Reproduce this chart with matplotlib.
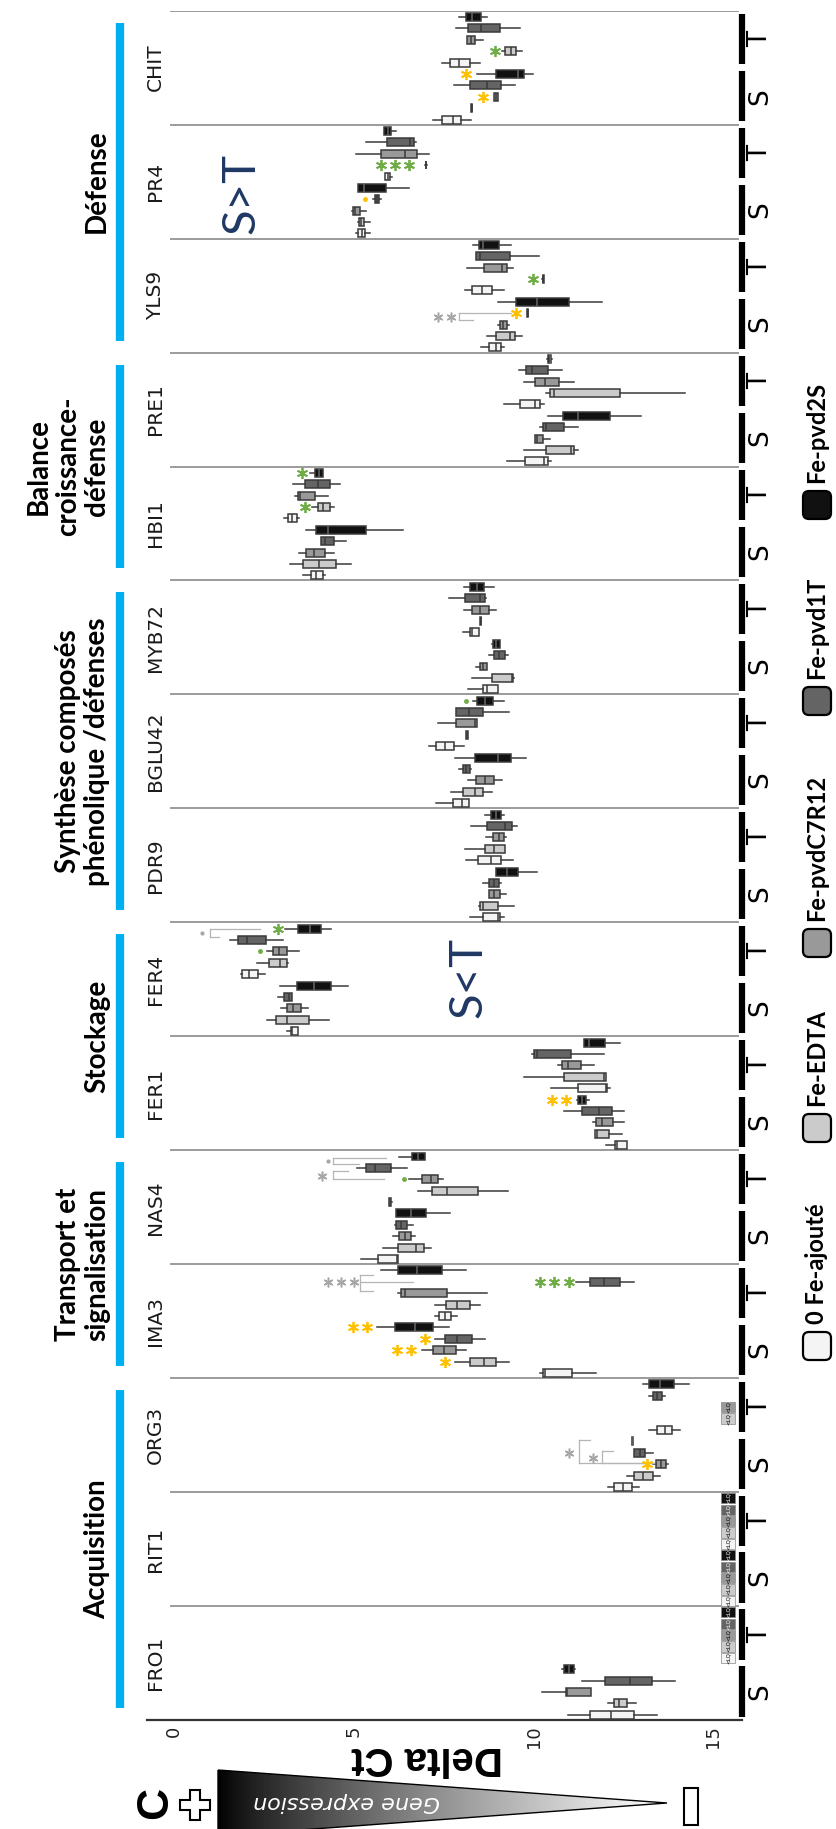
import matplotlib
matplotlib.use("Agg")
import matplotlib.pyplot as plt
import matplotlib.transforms as mtransforms
import numpy as np
from matplotlib.patches import FancyBboxPatch, Polygon, Rectangle

plt.rcParams["font.family"] = ["DejaVu Sans"]

# ── data (genes from bottom to top, Delta Ct values) ────
genes = ["FRO1", "RIT1", "ORG3", "IMA3", "NAS4", "FER1", "FER4",
         "PDR9", "BGLU42", "MYB72", "HBI1", "PRE1", "YLS9", "PR4", "CHIT"]
treatments = ["0 Fe-ajouté", "Fe-EDTA", "Fe-pvdC7R12", "Fe-pvd1T", "Fe-pvd2S"]
box_colors = ["#f4f4f4", "#cbcbcb", "#999999", "#646464", "#111111"]

# rows: S (5 treatments) then T (5 treatments)
# (whisker low, q1, median, q3, whisker high) ; None = below quantification
FRO1 = [(10.97, 11.57, 12.16, 12.80, 13.42), (12.06, 12.23, 12.38, 12.61, 12.86),
        (10.23, 10.90, 10.93, 11.60, 11.60), (11.34, 11.98, 12.68, 13.30, 13.94),
        (10.80, 10.86, 10.98, 11.12, 11.15),
        None, None, None, None, None]
RIT1 = [None] * 10
ORG3 = [(12.07, 12.25, 12.49, 12.74, 12.94), (12.59, 12.78, 13.05, 13.31, 13.52),
        (13.33, 13.40, 13.54, 13.68, 13.73), (12.80, 12.80, 12.95, 13.11, 13.33),
        (12.74, 12.75, 12.75, 12.76, 12.76),
        (13.21, 13.44, 13.65, 13.86, 14.06), None, None,
        (13.21, 13.31, 13.43, 13.56, 13.65), (13.03, 13.21, 13.52, 13.90, 14.33)]
IMA3 = [(10.17, 10.26, 10.32, 11.07, 11.75), (7.82, 8.23, 8.62, 8.97, 9.31),
        (6.89, 7.20, 7.51, 7.84, 8.13), (7.26, 7.53, 7.88, 8.28, 8.65),
        (5.65, 6.14, 6.70, 7.20, 7.66),
        (7.26, 7.38, 7.53, 7.72, 7.88), (7.26, 7.57, 7.88, 8.23, 8.52),
        (6.24, 6.33, 6.43, 7.61, 8.72), (11.19, 11.56, 11.97, 12.41, 12.78),
        (5.75, 6.24, 6.76, 7.45, 8.13)]
NAS4 = [(5.21, 5.67, 6.21, 6.23, 6.23), (5.83, 6.23, 6.74, 6.95, 7.14),
        (6.11, 6.27, 6.43, 6.60, 6.70), (6.14, 6.18, 6.33, 6.49, 6.64),
        (6.18, 6.18, 6.60, 7.01, 7.69),
        (5.98, 5.99, 6.02, 6.05, 6.06), (6.79, 7.17, 7.61, 8.46, 9.28),
        (6.55, 6.89, 7.14, 7.36, 7.48), (5.09, 5.34, 5.61, 6.05, 6.49),
        (6.27, 6.62, 6.79, 6.99, 6.99)]
FER1 = [(12.01, 12.26, 12.31, 12.59, 12.59), (11.72, 11.72, 11.76, 12.10, 12.47),
        (11.66, 11.75, 11.91, 12.22, 12.51), (10.86, 11.35, 11.82, 12.18, 12.51),
        (11.20, 11.25, 11.35, 11.45, 11.54),
        (10.48, 11.23, 12.01, 12.04, 12.13), (9.74, 10.86, 11.97, 12.01, 12.01),
        (10.67, 10.80, 10.96, 11.32, 11.69), (9.96, 10.01, 10.09, 11.04, 11.95),
        (11.41, 11.41, 11.54, 12.00, 12.41)]
FER4 = [(3.14, 3.27, 3.30, 3.45, 3.45), (2.59, 2.86, 3.14, 3.75, 4.32),
        (2.98, 3.14, 3.33, 3.54, 3.73), (2.90, 3.08, 3.20, 3.29, 3.29),
        (2.96, 3.42, 3.89, 4.37, 4.84),
        (1.87, 1.90, 2.11, 2.34, 2.55), (2.33, 2.65, 2.96, 3.14, 3.17),
        (2.61, 2.77, 2.92, 3.14, 3.48), (1.58, 1.80, 2.05, 2.57, 3.04),
        (3.11, 3.45, 3.79, 4.10, 4.38)]
PDR9 = [(8.23, 8.60, 9.02, 9.08, 9.18), (8.48, 8.50, 8.60, 9.00, 9.47),
        (8.75, 8.77, 8.90, 9.06, 9.24), (8.60, 8.77, 8.90, 9.03, 9.10),
        (8.97, 8.97, 9.25, 9.58, 10.11),
        (8.13, 8.46, 8.81, 9.10, 9.43), (8.10, 8.65, 8.90, 9.22, 9.22),
        (8.69, 8.87, 9.03, 9.18, 9.24), (8.25, 8.72, 9.22, 9.39, 9.55),
        (8.65, 8.81, 8.95, 9.10, 9.18)]
BGLU42 = [(7.29, 7.76, 8.00, 8.22, 8.22), (7.72, 8.04, 8.38, 8.60, 8.85),
          (8.19, 8.41, 8.66, 8.91, 9.12), (7.94, 8.03, 8.13, 8.23, 8.25),
          (7.82, 8.38, 9.00, 9.37, 9.80),
          (7.11, 7.29, 7.53, 7.79, 8.07), (8.12, 8.13, 8.15, 8.17, 8.18),
          (7.35, 7.84, 8.38, 8.44, 8.44), (7.84, 7.84, 8.20, 8.59, 9.31),
          (8.31, 8.44, 8.65, 8.87, 9.18)]
MYB72 = [(8.19, 8.59, 8.70, 9.00, 9.00), (8.29, 8.84, 9.40, 9.43, 9.47),
         (8.41, 8.50, 8.60, 8.71, 8.71), (8.75, 8.90, 9.05, 9.22, 9.28),
         (8.85, 8.87, 8.97, 9.06, 9.08),
         (8.03, 8.23, 8.30, 8.48, 8.48), (8.51, 8.52, 8.53, 8.54, 8.55),
         (8.07, 8.28, 8.50, 8.77, 8.96), (7.66, 8.09, 8.50, 8.66, 8.69),
         (8.07, 8.23, 8.42, 8.62, 8.91)]
HBI1 = [(3.60, 3.81, 3.97, 4.16, 4.22), (3.23, 3.60, 4.04, 4.51, 4.94),
        (3.48, 3.69, 3.91, 4.20, 4.45), (4.10, 4.10, 4.20, 4.47, 4.78),
        (3.69, 3.97, 4.28, 5.34, 6.37),
        (3.08, 3.17, 3.29, 3.42, 3.48), (3.85, 4.00, 4.16, 4.35, 4.47),
        (3.38, 3.45, 3.50, 3.94, 4.28), (3.33, 3.66, 4.01, 4.35, 4.63),
        (3.79, 3.94, 4.05, 4.16, 4.16)]
PRE1 = [(9.27, 9.77, 10.30, 10.40, 10.49), (9.74, 10.34, 11.04, 11.13, 11.25),
        (10.05, 10.05, 10.10, 10.27, 10.46), (10.17, 10.27, 10.36, 10.86, 11.25),
        (10.40, 10.82, 11.25, 12.13, 13.00),
        (9.18, 9.62, 10.05, 10.17, 10.30), (10.34, 10.46, 10.58, 12.41, 14.20),
        (9.74, 10.03, 10.32, 10.71, 11.13), (9.59, 9.78, 9.96, 10.40, 10.80),
        (10.38, 10.40, 10.45, 10.50, 10.52)]
YLS9 = [(8.54, 8.77, 8.96, 9.10, 9.18), (8.71, 8.97, 9.34, 9.49, 9.68),
        (9.00, 9.06, 9.15, 9.27, 9.31), (9.82, 9.83, 9.84, 9.85, 9.86),
        (9.00, 9.52, 10.09, 11.00, 11.91),
        (8.10, 8.28, 8.56, 8.85, 9.18), (10.25, 10.26, 10.27, 10.28, 10.29),
        (8.15, 8.62, 9.12, 9.27, 9.43), (8.40, 8.40, 8.50, 9.34, 10.14),
        (8.31, 8.48, 8.60, 9.03, 9.37)]
PR4 = [(5.07, 5.13, 5.24, 5.31, 5.46), (5.13, 5.15, 5.22, 5.30, 5.46),
       (4.97, 4.99, 5.05, 5.18, 5.34), (5.55, 5.59, 5.65, 5.71, 5.75),
       (5.13, 5.13, 5.30, 5.90, 6.55),
       (5.87, 5.87, 5.95, 6.02, 6.08), (6.99, 7.00, 7.01, 7.02, 7.03),
       (5.07, 5.75, 6.42, 6.76, 7.10), (5.36, 5.93, 6.58, 6.68, 6.73),
       (5.86, 5.86, 5.95, 6.05, 6.17)]
CHIT = [(7.20, 7.45, 7.76, 7.98, 8.25), (8.26, 8.27, 8.28, 8.29, 8.30),
        (8.91, 8.91, 8.95, 9.00, 9.00), (7.79, 8.23, 8.72, 9.10, 9.49),
        (8.44, 8.97, 9.56, 9.74, 9.99),
        (7.45, 7.69, 7.94, 8.23, 8.50), (9.12, 9.22, 9.37, 9.52, 9.68),
        (8.15, 8.15, 8.25, 8.38, 8.60), (7.86, 8.19, 8.53, 9.08, 9.62),
        (7.92, 8.13, 8.30, 8.53, 8.71)]

gene_rows = [FRO1, RIT1, ORG3, IMA3, NAS4, FER1, FER4,
             PDR9, BGLU42, MYB72, HBI1, PRE1, YLS9, PR4, CHIT]

categories = ["Acquisition", "Transport et\nsignalisation", "Stockage",
              "Synthèse composés\nphénolique /défenses",
              "Balance\ncroissance-\ndéfense", "Défense"]
category_genes = [(0, 3), (3, 5), (5, 7), (7, 10), (10, 12), (12, 15)]

# significance stars: gene, group, treatment index, colour, Delta Ct of each star
YEL, GRN, GRY = "#ffc000", "#70ad47", "#a6a6a6"
stars = [
    ("ORG3", "S", 2, YEL, [13.15]),
    ("IMA3", "T", 3, GRN, [10.18, 10.57, 10.98]),
    ("IMA3", "S", 4, YEL, [4.99, 5.38]),
    ("IMA3", "S", 3, YEL, [6.99]),
    ("IMA3", "S", 2, YEL, [6.21, 6.60]),
    ("IMA3", "S", 1, YEL, [7.53]),
    ("FER1", "S", 4, YEL, [10.52, 10.89]),
    ("FER4", "T", 4, GRN, [2.90]),
    ("HBI1", "T", 4, GRN, [3.57]),
    ("HBI1", "T", 1, GRN, [3.66]),
    ("YLS9", "T", 1, GRN, [9.99]),
    ("YLS9", "S", 3, YEL, [9.52]),
    ("PR4", "T", 1, GRN, [5.77, 6.14, 6.54]),
    ("CHIT", "T", 1, GRN, [8.93]),
    ("CHIT", "S", 4, YEL, [8.13]),
    ("CHIT", "S", 2, YEL, [8.59]),
]
dots = [("NAS4", "T", 2, GRN, 6.39), ("FER4", "T", 2, GRN, 2.40),
        ("BGLU42", "T", 4, GRN, 8.13), ("PR4", "S", 3, YEL, 5.31)]
# grey brackets: gene, group, x of bar, arms (row, x end), label, label (x, row)
brackets = [
    ("ORG3", "S", 11.27, [(4.09, 11.56), (2.09, 13.34)], "*", (11.00, 3.0)),
    ("ORG3", "S", 11.89, [(3.14, 12.20), (2.09, 13.34)], "*", (11.66, 2.57)),
    ("IMA3", "T", 5.19, [(3.57, 5.55), (3.0, 6.64), (2.2, 5.55)], "***", (4.65, 3.0)),
    ("NAS4", "T", 4.43, [(3.88, 5.90), (3.3, 5.15)], ".", (4.28, 3.6)),
    ("NAS4", "T", 4.43, [(2.71, 4.84), (2.06, 5.86)], "*", (4.12, 2.3)),
    ("FER4", "T", 1.00, [(4.0, 2.40), (3.29, 1.25)], ".", (0.79, 3.57)),
    ("YLS9", "S", 7.94, [(3.06, 9.37), (2.4, 8.32)], "**", (7.53, 2.7)),
]


def row_y(g, i):
    return g + 0.045 + 0.1 * i


def gy(gene, group, k):
    return row_y(genes.index(gene), k + (5 if group == "T" else 0))


# ── figure ───────────────────────────────────────────────────────────────────
W, H = 837, 1829
fig = plt.figure(figsize=(W / 100, H / 100), dpi=100)
ax = fig.add_axes([146.9 / W, 1 - 1720 / H, (739.4 - 146.9) / W, 1709.3 / H])

# separators and axis line
ax.hlines(np.arange(1, 16), -0.1, 15.72, color="#808080", lw=1.1, zorder=1)
ax.plot([-0.74, 15.8], [0, 0], color="#333333", lw=1.6, clip_on=False, zorder=2)

stats, pos, cols = [], [], []
for g, rows in enumerate(gene_rows):
    for i, r in enumerate(rows):
        if r is None:
            y = row_y(g, i)
            c = box_colors[i % 5]
            ax.add_patch(Rectangle((15.2, y - 0.045), 0.4, 0.09, facecolor=c,
                                   edgecolor="#888888", lw=0.5, zorder=3))
            ax.text(15.4, y, "<LQ", rotation=90, ha="center", va="center",
                    fontsize=4, color="white" if i % 5 >= 3 else "black", zorder=4)
            continue
        lo, q1, med, q3, hi = r
        stats.append(dict(whislo=lo, q1=q1, med=med, q3=q3, whishi=hi, fliers=[]))
        pos.append(row_y(g, i))
        cols.append(box_colors[i % 5])

bp = ax.bxp(stats, positions=pos, widths=0.07, orientation="horizontal",
            patch_artist=True, showcaps=False, showfliers=False, manage_ticks=False,
            boxprops=dict(edgecolor="#3a3a3a", linewidth=1.1),
            whiskerprops=dict(color="#3a3a3a", linewidth=1.1),
            medianprops=dict(color="#3a3a3a", linewidth=1.1))
for patch, med, c in zip(bp["boxes"], bp["medians"], cols):
    patch.set_facecolor(c)
    if c == box_colors[4]:
        med.set_color("#666666")

ax.set_xlim(-0.74, 15.72)
ax.set_ylim(0, 15)
for s in ax.spines.values():
    s.set_visible(False)
ax.set_yticks([])
ax.set_xticks([0, 5, 10, 15])
ax.set_xticklabels(["0", "5", "10", "15"], rotation=90)
ax.tick_params(axis="x", length=0, pad=4, labelsize=13, labelcolor="#222222")

# stars, dots, brackets
for gene, grp, k, col, xs in stars:
    y = gy(gene, grp, k)
    ax.plot(xs, [y] * len(xs), ls="none", marker=(6, 2, 0), ms=8, mew=1.3,
            color=col, zorder=5)
for gene, grp, k, col, x in dots:
    ax.plot(x, gy(gene, grp, k), "o", ms=2.5, color=col, zorder=5)
for gene, grp, xb, arms, lab, (lx, lk) in brackets:
    ks = [a[0] for a in arms]
    ax.plot([xb, xb], [gy(gene, grp, min(ks)), gy(gene, grp, max(ks))],
            color="#b5b5b5", lw=0.9, zorder=4)
    for k, xe in arms:
        ax.plot([xb, xe], [gy(gene, grp, k)] * 2, color="#b5b5b5", lw=0.9, zorder=4)
    ly = gy(gene, grp, lk)
    if lab == ".":
        ax.plot(lx, ly, "o", ms=2, color=GRY, zorder=5)
    else:
        n = len(lab)
        xs = lx + 0.35 * (np.arange(n) - (n - 1) / 2)
        ax.plot(xs, [ly] * n, ls="none", marker=(6, 2, 0), ms=7, mew=1.1,
                color=GRY, zorder=5)

# gene names, S/T strips
for g, name in enumerate(genes):
    ax.text(-0.51, g + 0.5, name, rotation=90, ha="center", va="center",
            fontsize=14.5, color="#1a1a1a")
    for j, lab in enumerate(["S", "T"]):
        ax.plot([15.8, 15.8], [g + 0.5 * j + 0.03, g + 0.5 * j + 0.47],
                color="black", lw=4.5, solid_capstyle="butt", clip_on=False)
        ax.text(16.3, g + 0.25 + 0.5 * j, lab, rotation=90, ha="center",
                va="center", fontsize=19, clip_on=False)

ax.text(1.9, 13.4, "S>T", rotation=90, ha="center", va="center",
        fontsize=34, family="Lato", color="#1f3864")
ax.text(8.2, 6.52, "S<T", rotation=90, ha="center", va="center",
        fontsize=34, family="Lato", color="#1f3864")

# ── overlay in pixel coordinates ────────────────────────────────────────────
ov = fig.add_axes([0, 0, 1, 1])
ov.patch.set_alpha(0)
ov.axis("off")
bt = mtransforms.blended_transform_factory(ov.transData, ax.transData)

band_px = 1709.3 / 15
for lab, (g0, g1) in zip(categories, category_genes):
    m = 12 / band_px
    ov.plot([120, 120], [g0 + m, g1 - m], transform=bt, color="#00b0f0",
            lw=6, solid_capstyle="butt")
    ov.text(110, (g0 + g1) / 2, lab, transform=bt, rotation=90, ha="right",
            va="center", fontsize=20, family="Lato", weight="bold",
            multialignment="center", linespacing=1.15)

# legend
leg_y = [1346, 1128, 943, 701, 505]
for lab, c, yc in zip(treatments, box_colors, leg_y):
    ov.add_patch(FancyBboxPatch((803, yc - 14), 28, 28,
                                boxstyle="round,pad=0,rounding_size=6",
                                facecolor=c, edgecolor="black", lw=1.6))
    ov.text(817, yc - 22, lab, rotation=90, ha="center", va="bottom",
            fontsize=17, family="Lato", weight="bold")

ov.text(427, 1758, "Delta Ct", rotation=180, ha="center", va="center",
        fontsize=29, family="Liberation Sans", weight="bold")

# expression triangle
grad = np.linspace(0, 1, 256) ** 0.8
im = ov.imshow(grad[None, :], cmap="gray", vmin=0, vmax=1, aspect="auto",
               extent=(218, 667, 1836, 1770))
tri = Polygon([(218, 1770), (667, 1803), (218, 1836)], closed=True,
              facecolor="none", edgecolor="black", lw=1)
ov.add_patch(tri)
im.set_clip_path(tri)
ov.text(347, 1802, "Gene expression", rotation=180, ha="center", va="center",
        fontsize=16, style="italic", color="white")

cx, cy, a, t = 195, 1805, 15, 5
plus = [(cx - t, cy - a), (cx + t, cy - a), (cx + t, cy - t), (cx + a, cy - t),
        (cx + a, cy + t), (cx + t, cy + t), (cx + t, cy + a), (cx - t, cy + a),
        (cx - t, cy + t), (cx - a, cy + t), (cx - a, cy - t), (cx - t, cy - t)]
ov.add_patch(Polygon(plus, closed=True, facecolor="white", edgecolor="black", lw=1.5))
ov.add_patch(Rectangle((684, 1788), 14, 37, facecolor="white", edgecolor="black", lw=1.5))
ov.text(156, 1803, "C", rotation=90, ha="center", va="center", fontsize=32,
        family="Liberation Sans", weight="bold")

ov.set_xlim(0, W)
ov.set_ylim(H, 0)

fig.savefig("out.png", dpi=100)
